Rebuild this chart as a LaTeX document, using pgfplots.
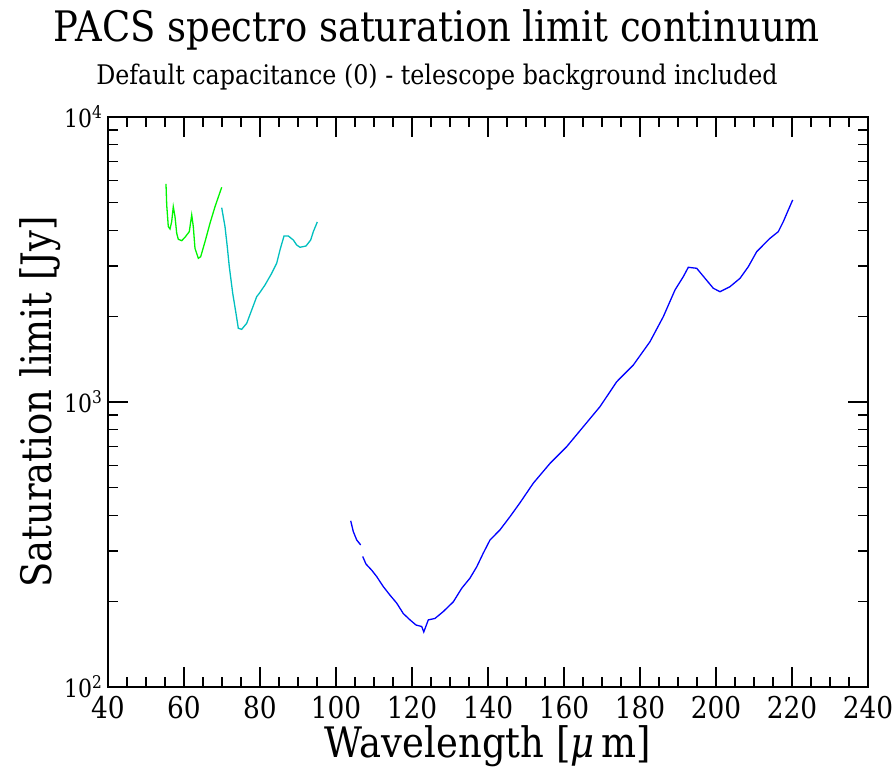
\documentclass[border=0pt]{standalone}
\usepackage{pgfplots}
\pgfplotsset{compat=1.18}
\usepackage{fontspec}
\setmainfont{DejaVu Serif}[FakeStretch=0.88]

\definecolor{specgreen}{RGB}{0,245,0}
\definecolor{speccyan}{RGB}{0,191,191}
\definecolor{specblue}{RGB}{0,0,255}

\begin{document}
\begin{tikzpicture}
\path[use as bounding box] (-108pt,-83pt) rectangle (785pt,687pt);
\begin{axis}[
    at={(0,0)}, anchor=south west,
    scale only axis, width=760pt, height=570pt,
    xmin=40, xmax=240, ymin=100, ymax=10000, ymode=log,
    xtick={40,60,...,240}, minor x tick num=3,
    xticklabels={40,60,80,100,120,140,160,180,200,220,240},
    ytick={100,1000,10000},
    yticklabels={10\textsuperscript{2},10\textsuperscript{3},10\textsuperscript{4}},
    minor ytick={200,300,400,500,600,700,800,900,2000,3000,4000,5000,6000,7000,8000,9000},
    tick align=inside, tick pos=both,
    major tick length=20pt, minor tick length=10pt,
    every tick/.style={black, line width=1.2pt},
    axis line style={line width=1.5pt},
    xticklabel style={font=\fontsize{30}{30}\selectfont, yshift=-6pt},
    yticklabel style={font=\fontsize{25}{25}\selectfont, xshift=-2pt},
    xlabel={Wavelength [{\itshape μ}\,m]},
    ylabel={Saturation limit [Jy]},
    label style={font=\fontsize{42}{42}\selectfont},
    xlabel style={inner sep=0pt, yshift=-3pt},
    ylabel style={yshift=-4pt},
    unbounded coords=jump,
    every axis plot/.append style={line width=1.3pt, no markers},
]
% green band
\addplot[specgreen] coordinates {
(55.26,5820) (55.45,4912) (55.87,4123) (56.32,4046) (56.76,4293)
(57.18,4845) (57.63,4470) (58.08,3909) (58.50,3724) (59.39,3681)
(60.26,3784) (61.39,3959) (62.03,4531) (62.45,4123) (62.89,3462)
(63.76,3193) (64.39,3234) (65.53,3651) (66.84,4236) (68.16,4845)
(69.92,5666)
};
% cyan band
\addplot[speccyan] coordinates {
(69.92,4806) (70.79,4123) (71.39,3506) (71.92,2983) (72.82,2406)
(73.68,2047) (74.29,1814) (75.18,1799) (76.50,1888) (77.82,2103)
(79.13,2342) (79.82,2406) (81.32,2574) (83.08,2829) (84.39,3067)
(85.26,3415) (86.32,3824) (87.45,3824) (88.76,3702) (89.66,3555)
(90.53,3490) (92.11,3527) (93.34,3702) (94.03,3959) (95.08,4282)
};
% blue band
\addplot[specblue] coordinates {
(103.87,383) (104.55,351) (105.45,328) (106.50,315) (106.80,nan)
(107.03,287) (107.89,270) (109.39,257) (110.71,244) (112.45,225)
(114.21,210) (115.97,197) (117.71,181) (119.47,172) (121.05,165)
(122.55,163) (123.10,156) (124.29,172) (126.05,174) (128.24,184) (130.87,199)
(133.08,222) (135.26,241) (137.03,264) (138.76,295) (140.53,328)
(143.16,356) (145.79,396) (148.42,443) (151.92,519) (156.32,609)
(160.71,697) (165.08,819) (169.47,963) (173.87,1178) (178.24,1348)
(182.63,1628) (186.13,1992) (189.21,2472) (191.39,2752) (192.71,2969)
(194.92,2945) (197.11,2716) (199.29,2506) (201.05,2438) (203.68,2539)
(206.32,2716) (208.50,2983) (210.71,3369) (212.45,3555) (214.21,3753)
(216.39,3959) (217.71,4293) (219.03,4718) (220.18,5115)
};
\end{axis}
\node at (329pt,657pt) {\fontsize{42}{42}\selectfont PACS spectro saturation limit continuum};
\node at (329pt,610pt) {\fontsize{27}{27}\selectfont Default capacitance (0) - telescope background included};
\end{tikzpicture}
\end{document}
